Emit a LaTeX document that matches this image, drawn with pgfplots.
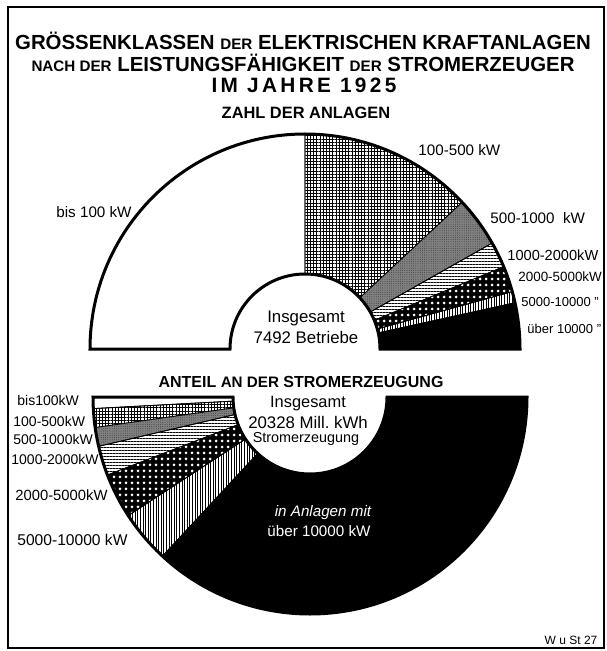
\documentclass[border=0pt]{standalone}
\usepackage{fontspec}
\setmainfont{Liberation Sans}
\usepackage{pgfplots}
\pgfplotsset{compat=1.18}
\usepackage{pgfplotstable}
\usetikzlibrary{patterns,patterns.meta,calc}

% Zahl der Anlagen (Anteil in %)
\pgfplotstableread{
klasse anteil
bis100 50.0
100-500 26.1
500-1000 7.5
1000-2000 3.9
2000-5000 3.9
5000-10000 1.7
ueber10000 6.9
}\anlagen

% Anteil an der Stromerzeugung (in %)
\pgfplotstableread{
klasse anteil
bis100 1.7
100-500 2.8
500-1000 2.8
1000-2000 4.4
2000-5000 6.7
5000-10000 7.8
ueber10000 73.8
}\strom

\newcommand\computeangles[3]{%
  \gdef\cumul{0}%
  \foreach \i in {0,...,6}{%
    \pgfplotstablegetelem{\i}{anteil}\of#1%
    \pgfmathsetmacro\aS{180+(#3)*1.8*\cumul}%
    \pgfmathsetmacro\newcum{\cumul+\pgfplotsretval}%
    \pgfmathsetmacro\aE{180+(#3)*1.8*\newcum}%
    \expandafter\xdef\csname #2S\i\endcsname{\aS}%
    \expandafter\xdef\csname #2E\i\endcsname{\aE}%
    \xdef\cumul{\newcum}%
  }%
}
\computeangles{\anlagen}{top}{-1}
\computeangles{\strom}{bot}{1}

\newcommand\sector[7]{%
  \path[#7] ($(axis cs:#1,#2)+(#5:#4)$) arc[start angle=#5, end angle=#6, radius=#4]
    -- ($(axis cs:#1,#2)+(#6:#3)$) arc[start angle=#6, end angle=#5, radius=#3] -- cycle;}

\tikzset{
 s0/.style={fill=white, draw=black, line width=0.4pt},
 s1/.style={draw=black, line width=0.4pt, pattern={Hatch[angle=0,distance=1.6pt,line width=0.35pt]}},
 s2/.style={draw=black, line width=0.4pt, fill=black!50, postaction={pattern={Dots[distance=1.1pt,radius=0.2pt]}, pattern color=black!85}},
 s3/.style={draw=black, line width=0.4pt, pattern={Lines[angle=0,distance=1.5pt,line width=0.4pt]}},
 s4/.style={draw=black, line width=0.4pt, preaction={fill=black}, pattern={Dots[distance=3pt,radius=0.75pt]}, pattern color=white},
 s5/.style={draw=black, line width=0.4pt, pattern={Lines[angle=90,distance=1.3pt,line width=0.45pt]}},
 s6/.style={fill=black, draw=black, line width=0.4pt},
}

\newcommand\sm[1]{{\fontsize{7.6}{9}\selectfont #1}}

\begin{document}
\begin{tikzpicture}
\path[use as bounding box] (0,0) rectangle (303pt,325.5pt);
\begin{axis}[x=0.5pt, y=0.5pt, xmin=0, xmax=606, ymin=0, ymax=651, y dir=reverse,
  hide axis, clip=false, anchor=south west, at={(0,0)}]

% frame
\draw[line width=1.1pt] (axis cs:8,7) rectangle (axis cs:604,648);

% top semicircle
\pgfplotsinvokeforeach{0,...,6}{%
  \edef\temp{\noexpand\sector{305}{349}{37.5pt}{107.5pt}{\csname topS#1\endcsname}{\csname topE#1\endcsname}{s#1}}\temp}
\draw[line width=1.5pt] ($(axis cs:305,349)+(180:107.5pt)$) arc[start angle=180,end angle=0,radius=107.5pt]
   -- ($(axis cs:305,349)+(0:37.5pt)$) arc[start angle=0,end angle=180,radius=37.5pt] -- cycle;

% bottom semicircle
\pgfplotsinvokeforeach{0,...,6}{%
  \edef\temp{\noexpand\sector{310}{397}{38.5pt}{108.5pt}{\csname botS#1\endcsname}{\csname botE#1\endcsname}{s#1}}\temp}
\draw[line width=1.5pt] ($(axis cs:310,397)+(180:108.5pt)$) arc[start angle=180,end angle=360,radius=108.5pt]
   -- ($(axis cs:310,397)+(0:38.5pt)$) arc[start angle=360,end angle=180,radius=38.5pt] -- cycle;

% titles
\node[inner sep=0, font=\fontsize{10.2}{12}\selectfont\bfseries] at (axis cs:303,41) {GRÖSSENKLASSEN \sm{DER} ELEKTRISCHEN KRAFTANLAGEN};
\node[inner sep=0, font=\fontsize{10.2}{12}\selectfont\bfseries] at (axis cs:303,63) {\sm{NACH DER} LEISTUNGSFÄHIGKEIT \sm{DER} STROMERZEUGER};
\node[inner sep=0, font=\fontsize{10.4}{12}\selectfont\bfseries\addfontfeature{LetterSpace=16}] at (axis cs:304,85) {IM JAHRE 1925};
\node[inner sep=0, font=\fontsize{8.2}{10}\selectfont\bfseries] at (axis cs:306,113) {ZAHL DER ANLAGEN};
\node[inner sep=0, font=\fontsize{8}{10}\selectfont\bfseries] at (axis cs:301,382) {ANTEIL \sm{AN DER} STROMERZEUGUNG};

% top labels
\node[inner sep=0, anchor=east, font=\fontsize{7.6}{9}\selectfont] at (axis cs:132,212) {bis 100 kW};
\node[inner sep=0, anchor=west, font=\fontsize{7.6}{9}\selectfont] at (axis cs:418,150) {100-500 kW};
\node[inner sep=0, anchor=west, font=\fontsize{7.6}{9}\selectfont] at (axis cs:490,218) {500-1000~ kW};
\node[inner sep=0, anchor=west, font=\fontsize{7.3}{9}\selectfont] at (axis cs:507,255) {1000-2000kW};
\node[inner sep=0, anchor=west, font=\fontsize{6.7}{9}\selectfont] at (axis cs:518,277) {2000-5000kW};
\node[inner sep=0, anchor=west, font=\fontsize{6.5}{9}\selectfont] at (axis cs:521,302) {5000-10000 ''};
\node[inner sep=0, anchor=west, font=\fontsize{6.5}{9}\selectfont] at (axis cs:527,329) {über 10000 ''};

\node[inner sep=0, font=\fontsize{8.4}{10}\selectfont] at (axis cs:306,318) {Insgesamt};
\node[inner sep=0, font=\fontsize{8.4}{10}\selectfont] at (axis cs:306,337) {7492 Betriebe};

% bottom labels
\node[inner sep=0, anchor=west, font=\fontsize{7}{9}\selectfont] at (axis cs:17,400) {bis100kW};
\node[inner sep=0, anchor=west, font=\fontsize{7}{9}\selectfont] at (axis cs:13,421) {100-500kW};
\node[inner sep=0, anchor=west, font=\fontsize{7}{9}\selectfont] at (axis cs:13,439) {500-1000kW};
\node[inner sep=0, anchor=west, font=\fontsize{7}{9}\selectfont] at (axis cs:11,459) {1000-2000kW};
\node[inner sep=0, anchor=west, font=\fontsize{7.4}{9}\selectfont] at (axis cs:15,495) {2000-5000kW};
\node[inner sep=0, anchor=west, font=\fontsize{7.8}{9}\selectfont] at (axis cs:17,540) {5000-10000 kW};

\node[inner sep=0, font=\fontsize{8.2}{10}\selectfont] at (axis cs:308,404) {Insgesamt};
\node[inner sep=0, font=\fontsize{8.4}{10}\selectfont] at (axis cs:308,422) {20328 Mill.\ kWh};
\node[inner sep=0, font=\fontsize{7.2}{10}\selectfont] at (axis cs:306,439) {Stromerzeugung};

\node[inner sep=0, text=white, font=\fontsize{7.6}{9}\selectfont\itshape] at (axis cs:323,513) {in Anlagen mit};
\node[inner sep=0, text=white, font=\fontsize{7.6}{9}\selectfont] at (axis cs:319,531) {über 10000 kW};

\node[inner sep=0, font=\fontsize{6}{7}\selectfont] at (axis cs:571,640) {W u St 27};
\end{axis}
\end{tikzpicture}
\end{document}
